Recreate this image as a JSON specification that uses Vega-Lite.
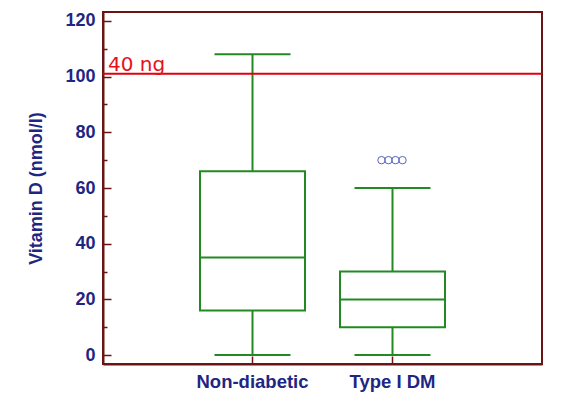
{
  "$schema": "https://vega.github.io/schema/vega-lite/v6.json",
  "autosize": "none",
  "width": 439,
  "height": 352,
  "padding": {"left": 103, "top": 12, "right": 21, "bottom": 38},
  "background": "white",
  "config": {
    "view": {"stroke": "#6b1414", "strokeWidth": 2},
    "font": "Liberation Sans"
  },
  "datasets": {
    "stats": [
      {"group": "Non-diabetic", "min": 0, "q1": 16, "median": 35, "q3": 66, "max": 108},
      {"group": "Type I DM", "min": 0, "q1": 10, "median": 20, "q3": 30, "max": 60}
    ],
    "outliers": [
      {"group": "Type I DM", "value": 70, "n": 1},
      {"group": "Type I DM", "value": 70, "n": 2},
      {"group": "Type I DM", "value": 70, "n": 3},
      {"group": "Type I DM", "value": 70, "n": 4}
    ],
    "reference": [
      {"level": 101, "label": "40 ng"}
    ]
  },
  "resolve": {"axis": {"y": "independent"}},
  "encoding": {
    "x": {
      "field": "group",
      "type": "nominal",
      "sort": ["Non-diabetic", "Type I DM"],
      "scale": {"type": "band", "paddingInner": 0.5, "paddingOuter": 0.818},
      "axis": {
        "title": null,
        "labelAngle": 0,
        "labelFont": "Liberation Sans",
        "labelFontSize": 18.5,
        "labelFontWeight": "bold",
        "labelColor": "#1e2682",
        "labelPadding": 16,
        "tickSize": -8,
        "tickColor": "#6b1414",
        "tickWidth": 1.5,
        "domainColor": "#6b1414",
        "domainWidth": 2,
        "grid": false
      }
    }
  },
  "layer": [
    {
      "data": {"name": "stats"},
      "mark": {"type": "rule", "color": "#238a23", "strokeWidth": 2},
      "encoding": {
        "y": {
          "field": "min",
          "type": "quantitative",
          "scale": {"domain": [-3.2, 123.2], "nice": false, "zero": false},
          "axis": {
            "orient": "left",
            "title": "Vitamin D (nmol/l)",
            "titleFont": "Liberation Sans",
            "titleFontSize": 18,
            "titleFontWeight": "bold",
            "titleColor": "#1e2682",
            "titlePadding": 19,
            "values": [0, 20, 40, 60, 80, 100, 120],
            "labelFont": "Liberation Sans",
            "labelFontSize": 18,
            "labelFontWeight": "bold",
            "labelColor": "#1e2682",
            "labelPadding": 16,
            "tickSize": -8,
            "tickColor": "#6b1414",
            "tickWidth": 1.5,
            "domainColor": "#6b1414",
            "domainWidth": 2,
            "grid": false
          }
        },
        "y2": {"field": "max"}
      }
    },
    {
      "data": {"name": "stats"},
      "mark": {"type": "bar", "size": 105, "fill": "white", "stroke": "#238a23", "strokeWidth": 2},
      "encoding": {
        "y": {"field": "q1", "type": "quantitative", "axis": null},
        "y2": {"field": "q3"}
      }
    },
    {
      "data": {"name": "stats"},
      "mark": {"type": "tick", "size": 105, "thickness": 2, "color": "#238a23", "opacity": 1},
      "encoding": {"y": {"field": "median", "type": "quantitative", "axis": null}}
    },
    {
      "data": {"name": "stats"},
      "mark": {"type": "tick", "size": 76, "thickness": 2, "color": "#238a23", "opacity": 1},
      "encoding": {"y": {"field": "min", "type": "quantitative", "axis": null}}
    },
    {
      "data": {"name": "stats"},
      "mark": {"type": "tick", "size": 76, "thickness": 2, "color": "#238a23", "opacity": 1},
      "encoding": {"y": {"field": "max", "type": "quantitative", "axis": null}}
    },
    {
      "data": {"name": "outliers"},
      "mark": {"type": "point", "shape": "circle", "filled": false, "size": 55, "stroke": "#5563bd", "strokeWidth": 1, "opacity": 1},
      "encoding": {
        "y": {"field": "value", "type": "quantitative", "axis": null},
        "xOffset": {"field": "n", "type": "quantitative", "scale": {"domain": [1, 4], "range": [24, 45]}}
      }
    },
    {
      "data": {"name": "reference"},
      "mark": {"type": "rule", "color": "#e0000f", "strokeWidth": 2},
      "encoding": {
        "y": {
          "field": "level",
          "type": "quantitative",
          "axis": {
            "orient": "left",
            "title": null,
            "values": [10, 30, 50, 70, 90, 110],
            "labels": false,
            "domain": false,
            "grid": false,
            "tickSize": -4,
            "tickColor": "#6b1414",
            "tickWidth": 1.5
          }
        },
        "x": null
      }
    },
    {
      "data": {"name": "reference"},
      "mark": {"type": "text", "align": "left", "baseline": "alphabetic", "dx": 5, "dy": -3, "font": "DejaVu Sans", "fontSize": 20, "color": "#e8101a"},
      "encoding": {
        "x": {"value": 0},
        "y": {"field": "level", "type": "quantitative", "axis": null},
        "text": {"field": "label"}
      }
    }
  ]
}
